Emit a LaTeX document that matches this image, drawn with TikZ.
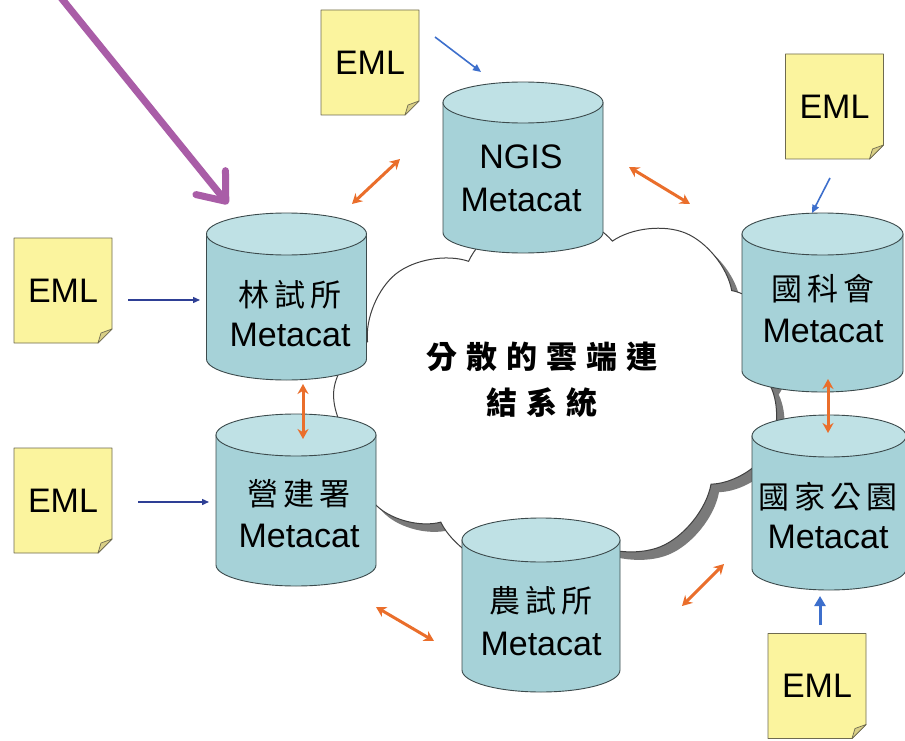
\documentclass[tikz,border=0pt]{standalone}
\usepackage{fontspec}
\setmainfont{Liberation Sans}
\newfontfamily\cjk{Noto Sans CJK TC}
\usetikzlibrary{arrows.meta,shapes.symbols}
\definecolor{cylbody}{HTML}{A6D2D8}
\definecolor{cyltop}{HTML}{BFE1E5}
\definecolor{cyledge}{HTML}{3C4A4C}
\definecolor{emlfill}{HTML}{FBF49E}
\definecolor{emledge}{HTML}{6E6A50}
\definecolor{emlfold}{HTML}{D9CF86}
\definecolor{orangelink}{HTML}{EA6E2B}
\definecolor{navyarrow}{HTML}{2E3F95}
\definecolor{bluearrow}{HTML}{3D6FCC}
\definecolor{purplearrow}{HTML}{A95DA7}
\definecolor{cloudedge}{HTML}{404040}
\definecolor{cloudshade}{HTML}{7A7A7A}

\newcommand\dbcyl[5]{%
  \filldraw[cylshape] ({#1-#4},{#2+#5}) -- ({#1-#4},{#3-#5})
     arc[start angle=180, end angle=0, x radius=#4, y radius=#5]
     -- ({#1+#4},{#2+#5}) -- cycle;
  \filldraw[cyltopshape] (#1,{#2+#5}) ellipse [x radius=#4, y radius=#5];
}
\newcommand\emlnote[3]{%
  \filldraw[emlshape] ({#2-49},{#3-52.5}) -- ({#2+49},{#3-52.5})
     -- ({#2+49},{#3+52.5-14}) -- ({#2+49-14},{#3+52.5})
     -- ({#2-49},{#3+52.5}) -- cycle;
  \filldraw[emlfoldshape] ({#2+49},{#3+52.5-14}) -- ({#2+49-14},{#3+52.5})
     -- ({#2+49-11},{#3+52.5-10}) -- cycle;
  \node[emltext] (#1) at (#2,#3) {EML};
}

\begin{document}
\begin{tikzpicture}[x=1pt,y=-1pt,
  cylshape/.style={fill=cylbody, draw=cyledge, line width=0.9pt},
  cyltopshape/.style={fill=cyltop, draw=cyledge, line width=0.9pt},
  emlshape/.style={fill=emlfill, draw=emledge, line width=0.9pt, line join=round},
  emlfoldshape/.style={fill=emlfold, draw=emledge, line width=0.7pt, line join=round},
  emltext/.style={font=\fontsize{34}{40}\selectfont, inner sep=0pt},
  cyltext/.style={font=\fontsize{34}{40}\selectfont, align=center, inner sep=0pt},
  cjktext/.style={font=\cjk\bfseries\fontsize{31}{46}\selectfont, align=center, inner sep=0pt},
  cloudbox/.style={cloud, cloud puffs=9, cloud puff arc=115, cloud ignores aspect,
     minimum width=455pt, minimum height=360pt, inner sep=0pt},
  linkarrow/.style={draw=orangelink, line width=3pt,
     {Stealth[length=10pt,width=11pt]}-{Stealth[length=10pt,width=11pt]}},
  navylink/.style={draw=navyarrow, line width=1.4pt, -{Triangle[length=7pt,width=6pt]}},
  bluelink/.style={draw=bluearrow, line width=1.6pt, -{Triangle[length=8pt,width=7pt]}},
  bigbluelink/.style={draw=bluearrow, line width=3pt, -{Triangle[length=10pt,width=11pt]}},
  pointer/.style={draw=purplearrow, line width=7pt, line cap=round,
     -{Straight Barb[length=24pt,width=38pt,round]}}
]
\useasboundingbox (0,0) rectangle (905,741);
\clip (0,0) rectangle (905,741);
\fill[white] (0,0) rectangle (905,741);

% cloud with shadow
\node[cloudbox, fill=cloudshade, rotate=8] (cloudshadow) at (568,398) {};
\node[cloudbox, fill=white, draw=cloudedge, line width=1pt, rotate=8] (cloud) at (560,390) {};
\node[cjktext] (cloudtxt) at (542,380) {分\hspace{9pt}散\hspace{9pt}的\hspace{9pt}雲\hspace{9pt}端\hspace{9pt}連\\結\hspace{9pt}系\hspace{9pt}統};

% cylinders
\dbcyl{523}{82}{253}{80}{20.5}
\node[cyltext] (ngis) at (521,178.5) {NGIS\\[3pt]Metacat};

\dbcyl{286.5}{213}{380}{80}{21}
\node[cyltext] (lin) at (290,314) {{\cjk\fontsize{31}{40}\selectfont 林\,試\,所}\\Metacat};

\dbcyl{296}{414}{586}{80}{21}
\node[cyltext] (ying) at (299,514) {{\cjk\fontsize{31}{40}\selectfont 營\,建\,署}\\[2pt]Metacat};

\dbcyl{541}{518}{692}{79}{22}
\node[cyltext] (nong) at (541,621.5) {{\cjk\fontsize{31}{40}\selectfont 農\,試\,所}\\[3pt]Metacat};

\dbcyl{822.5}{213}{392}{80.5}{21}
\node[cyltext] (nsc) at (823,309) {{\cjk\fontsize{31}{40}\selectfont 國\,科\,會}\\[2pt]Metacat};

\dbcyl{829}{415}{590}{77}{21}
\node[cyltext] (park) at (828,516) {{\cjk\fontsize{31}{40}\selectfont 國\,家\,公\,園}\\Metacat};

% EML notes
\emlnote{emltop}{370}{62.5}
\emlnote{emlrt}{834.5}{106.5}
\emlnote{emlla}{63}{290.5}
\emlnote{emllb}{63}{500.5}
\emlnote{emlbr}{817}{686}

% arrow end points
\coordinate (a1s) at (128,300); \coordinate (a1e) at (200,300);
\coordinate (a2s) at (138,502); \coordinate (a2e) at (209,502);
\coordinate (a3s) at (435,37);  \coordinate (a3e) at (481,72);
\coordinate (a4s) at (830,178); \coordinate (a4e) at (812,213);
\coordinate (a5s) at (820,625); \coordinate (a5e) at (820,596);

\coordinate (o1a) at (352,204); \coordinate (o1b) at (400,159);
\coordinate (o2a) at (629,167); \coordinate (o2b) at (690,204);
\coordinate (o3a) at (303,384); \coordinate (o3b) at (303,439);
\coordinate (o4a) at (828,379); \coordinate (o4b) at (828,433);
\coordinate (o5a) at (376,607); \coordinate (o5b) at (434,641);
\coordinate (o6a) at (682,606); \coordinate (o6b) at (724,564);

\coordinate (pstart) at (58,-6); \coordinate (ptip) at (228,204);

% EML inputs
\draw[navylink] (a1s) -- (a1e);
\draw[navylink] (a2s) -- (a2e);
\draw[bluelink] (a3s) -- (a3e);
\draw[bluelink] (a4s) -- (a4e);
\draw[bigbluelink] (a5s) -- (a5e);

% links between metacats
\draw[linkarrow] (o1a) -- (o1b);
\draw[linkarrow] (o2a) -- (o2b);
\draw[linkarrow] (o3a) -- (o3b);
\draw[linkarrow] (o4a) -- (o4b);
\draw[linkarrow] (o5a) -- (o5b);
\draw[linkarrow] (o6a) -- (o6b);

% pointer
\draw[pointer] (pstart) -- (ptip);
\end{tikzpicture}
\end{document}
